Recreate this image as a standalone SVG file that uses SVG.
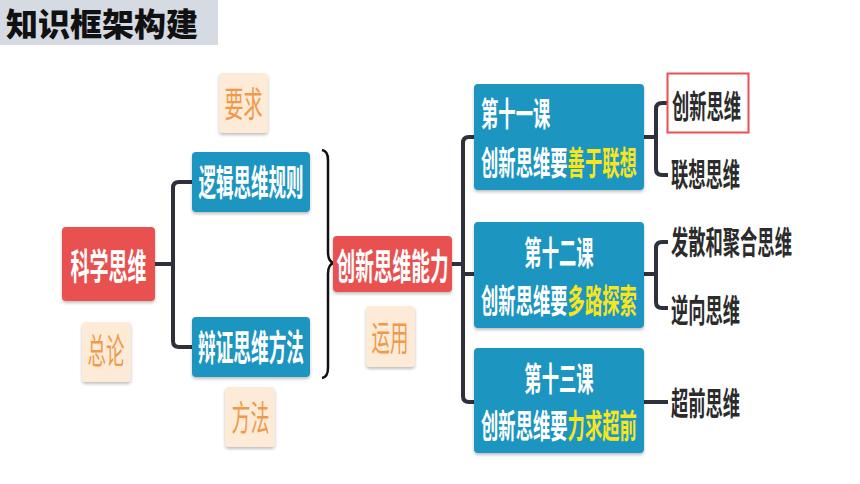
<svg xmlns="http://www.w3.org/2000/svg" width="860" height="484" viewBox="0 0 860 484">
<defs>
<filter id="sh" x="-10%" y="-10%" width="120%" height="130%">
<feDropShadow dx="0" dy="2" stdDeviation="1.5" flood-color="#000" flood-opacity="0.25"/>
</filter>
<style>
.t{font-family:"Noto Sans CJK SC","Noto Sans",sans-serif;}
.w{fill:#ffffff;font-weight:700;font-size:36px;}
.ls{fill:#ffffff;font-weight:700;font-size:33px;}
.y{fill:#f7e51e;}
.o{fill:#ef9a4a;font-weight:400;font-size:35px;}
.d{fill:#2b2b2b;font-weight:700;font-size:32px;}
.m{text-anchor:middle;}
.red{fill:#e8514f;}
.blue{fill:#1f95c0;}
.peach{fill:#fdebd8;}
.ln{fill:none;stroke:#2e303b;stroke-width:4;stroke-linecap:butt;}
</style>
</defs>
<rect x="0" y="0" width="860" height="484" fill="#ffffff"/>
<g id="title">
<rect x="0" y="0" width="218" height="45" fill="#d6dbe3"/>
<text class="t" x="6" y="35.5" font-size="32" font-weight="900" fill="#111111">知识框架构建</text>
</g>
<g id="connectors">
<path class="ln" d="M155 264 H173 M192 182 H179 Q173 182 173 188 V341 Q173 347 179 347 H192"/>
<path fill="none" stroke="#111111" stroke-width="2.5" d="M322 150 Q328 151 328 160 V252 Q328 262 334 263 Q328 264 328 274 V368 Q328 377 322 378"/>
<path class="ln" d="M452 264 H463 M474 137 H469 Q463 137 463 143 V396 Q463 402 469 402 H474 M463 274 H474"/>
<path class="ln" d="M644 137 H656 M668 103 H662 Q656 103 656 109 V169 Q656 175 662 175 H668"/>
<path class="ln" d="M644 274 H656 M668 242 H662 Q656 242 656 248 V302 Q656 308 662 308 H668"/>
<path class="ln" d="M644 402 H668"/>
</g>
<g id="n-kexue">
<rect class="red" x="62" y="227" width="93" height="74" rx="4" filter="url(#sh)"/>
<text class="t w" transform="translate(70.5,279.7) scale(0.528,1)">科学思维</text>
</g>
<g id="n-zonglun">
<rect class="peach" x="82" y="322" width="49" height="60" rx="4" filter="url(#sh)"/>
<text class="t o" transform="translate(87.5,364.3) scale(0.529,1)">总论</text>
</g>
<g id="n-yaoqiu">
<rect class="peach" x="219" y="73" width="49" height="60" rx="4" filter="url(#sh)"/>
<text class="t o" transform="translate(224.5,117.3) scale(0.543,1)">要求</text>
</g>
<g id="n-luoji">
<rect class="blue" x="192" y="152" width="118" height="60" rx="4" filter="url(#sh)"/>
<text class="t w" transform="translate(198.5,195.7) scale(0.486,1)">逻辑思维规则</text>
</g>
<g id="n-bianzheng">
<rect class="blue" x="192" y="317" width="118" height="60" rx="4" filter="url(#sh)"/>
<text class="t w" transform="translate(198,360.7) scale(0.491,1)">辩证思维方法</text>
</g>
<g id="n-fangfa">
<rect class="peach" x="225" y="387" width="50" height="60" rx="4" filter="url(#sh)"/>
<text class="t o" transform="translate(231.5,431.3) scale(0.543,1)">方法</text>
</g>
<g id="n-chuangxin">
<rect class="red" x="333" y="236" width="119" height="56" rx="4" filter="url(#sh)"/>
<text class="t w" transform="translate(336.5,279.7) scale(0.519,1)">创新思维能力</text>
</g>
<g id="n-yunyong">
<rect class="peach" x="366" y="306" width="49" height="61" rx="4" filter="url(#sh)"/>
<text class="t o" transform="translate(371.5,351.3) scale(0.529,1)">运用</text>
</g>
<g id="n-lesson11">
<rect class="blue" x="474" y="84" width="170" height="106" rx="4" filter="url(#sh)"/>
<text class="t ls" transform="translate(481,125.5) scale(0.525,1)">第十一课</text>
<text class="t ls" transform="translate(481,174.5) scale(0.525,1)">创新思维要<tspan class="y">善于联想</tspan></text>
</g>
<g id="n-lesson12">
<rect class="blue" x="474" y="222" width="170" height="106" rx="4" filter="url(#sh)"/>
<text class="t ls m" transform="translate(559,264.5) scale(0.525,1)">第十二课</text>
<text class="t ls" transform="translate(481,312.5) scale(0.525,1)">创新思维要<tspan class="y">多路探索</tspan></text>
</g>
<g id="n-lesson13">
<rect class="blue" x="474" y="348" width="170" height="105" rx="4" filter="url(#sh)"/>
<text class="t ls m" transform="translate(559,390.5) scale(0.525,1)">第十三课</text>
<text class="t ls" transform="translate(481,437.5) scale(0.525,1)">创新思维要<tspan class="y">力求超前</tspan></text>
</g>
<g id="n-cxsw">
<rect x="667.5" y="73.5" width="81" height="59" fill="#ffffff" stroke="#e8514f" stroke-width="2"/>
<text class="t d" transform="translate(672,118.2) scale(0.54,1)">创新思维</text>
</g>
<g id="n-lxsw">
<text class="t d" transform="translate(671,186.2) scale(0.54,1)">联想思维</text>
</g>
<g id="n-fsjh">
<text class="t d" transform="translate(671,254.2) scale(0.54,1)">发散和聚合思维</text>
</g>
<g id="n-nxsw">
<text class="t d" transform="translate(671,322.2) scale(0.54,1)">逆向思维</text>
</g>
<g id="n-cqsw">
<text class="t d" transform="translate(671,415.2) scale(0.54,1)">超前思维</text>
</g>
</svg>
